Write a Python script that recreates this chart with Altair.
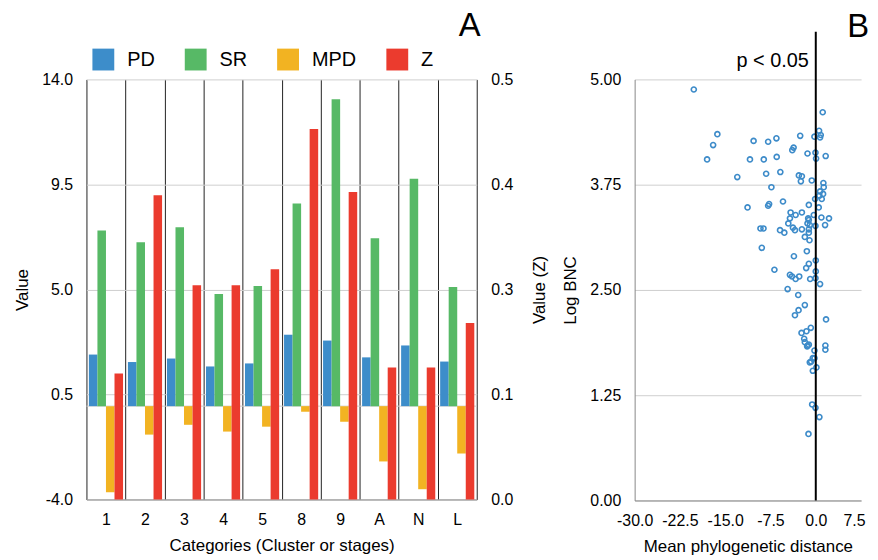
import altair as alt
import pandas as pd

# ---------------- Panel A data ----------------
categories = ["1", "2", "3", "4", "5", "8", "9", "A", "N", "L"]
series_order = ["PD", "SR", "MPD", "Z"]
series_colors = ["#3d8dca", "#57b966", "#f2b322", "#eb3b2e"]
pd_vals = [2.21, 1.89, 2.04, 1.70, 1.83, 3.06, 2.81, 2.09, 2.60, 1.91]
sr_vals = [7.53, 7.02, 7.66, 4.81, 5.15, 8.68, 13.15, 7.19, 9.74, 5.11]
mpd_vals = [-3.69, -1.22, -0.80, -1.09, -0.88, -0.24, -0.67, -2.37, -3.56, -2.03]
z_vals = [0.150, 0.362, 0.255, 0.255, 0.274, 0.441, 0.366, 0.157, 0.157, 0.210]
left_ticks = [-4.0, 0.5, 5.0, 9.5, 14.0]
right_ticks = [0.0, 0.125, 0.25, 0.375, 0.5]

# ---------------- Panel B data ----------------
mpd_x = [-20.2, 1.15, -16.3, 0.55, -2.58, -6.52, -10.3, -7.89, -0.22, 0.82,
         0.71, -17.0, -3.67, -3.89, -1.37, -0.05, 1.64, -18.0, -10.9, -8.61,
         -6.47, 0.05, -13.0, -8.22, -5.87, -2.80, -2.30, -2.47, -0.66, 1.26,
         1.32, -7.35, 0.71, 1.21, 0.60, -11.3, -7.89, -7.73, -5.43, -0.11,
         -1.15, 0.99, 0.49, -4.17, -3.34, -2.30, -4.28, -1.26, -1.15, -0.33,
         0.93, 2.19, -4.55, -1.37, -0.99, -0.05, 1.54, -9.16, -8.66, -5.92,
         -5.21, -3.78, -3.45, -2.30, -1.15, -1.15, -1.81, -1.04, -8.94, -1.48,
         -3.62, 0.0, -1.15, -1.59, -6.85, 0.0, -4.28, -3.95, -2.74, -0.93,
         -0.05, -3.34, 0.71, -4.66, -2.91, -1.81, -2.85, -3.45, 1.70, -0.82,
         -1.54, -2.36, -1.92, -1.81, -1.37, -1.15, -1.43, 1.59, 1.59, -0.22,
         -0.49, -0.22, -0.77, -0.99, 0.11, -0.49, -0.60, -0.05, 0.60, -1.21]
log_bnc = [4.88, 4.61, 4.35, 4.39, 4.33, 4.30, 4.27, 4.26, 4.32, 4.34,
           4.31, 4.22, 4.19, 4.16, 4.12, 4.13, 4.09, 4.05, 4.05, 4.05,
           4.08, 4.06, 3.84, 3.88, 3.90, 3.86, 3.85, 3.79, 3.80, 3.77,
           3.72, 3.72, 3.67, 3.64, 3.62, 3.48, 3.50, 3.52, 3.55, 3.58,
           3.51, 3.58, 3.48, 3.42, 3.39, 3.42, 3.35, 3.35, 3.33, 3.39,
           3.36, 3.35, 3.29, 3.29, 3.27, 3.26, 3.27, 3.23, 3.23, 3.21,
           3.18, 3.24, 3.21, 3.22, 3.22, 3.18, 3.13, 3.09, 3.00, 2.96,
           2.90, 2.85, 2.81, 2.76, 2.74, 2.72, 2.68, 2.66, 2.66, 2.63,
           2.64, 2.63, 2.57, 2.51, 2.44, 2.32, 2.26, 2.20, 2.15, 2.05,
           2.01, 1.99, 1.92, 1.88, 1.84, 1.85, 1.83, 1.84, 1.79, 1.78,
           1.69, 1.69, 1.65, 1.64, 1.58, 1.54, 1.14, 1.10, 0.99, 0.79]
b_xticks = [-30.0, -22.5, -15.0, -7.5, 0.0, 7.5]
b_yticks = [0.0, 1.25, 2.5, 3.75, 5.0]

FONT = "Liberation Sans"
MINUS_FIX = "replace(format(datum.value, '.1f'), '\u2212', '-')"

rows = []
for i, c in enumerate(categories):
    rows.append({"category": c, "series": "PD", "value": pd_vals[i]})
    rows.append({"category": c, "series": "SR", "value": sr_vals[i]})
    rows.append({"category": c, "series": "MPD", "value": mpd_vals[i]})
df_left = pd.DataFrame(rows)
df_z = pd.DataFrame({"category": categories, "series": ["Z"] * len(categories), "value": z_vals})

x_enc = alt.X("category:N", sort=categories,
              scale=alt.Scale(domain=categories, paddingInner=0, paddingOuter=0),
              axis=alt.Axis(title="Categories (Cluster or stages)", labelAngle=0,
                            tickBand="extent", grid=True, gridColor="#222", gridWidth=1,
                            ticks=False, domainColor="#888", labelPadding=12,
                            labelFontSize=16, titleFontSize=17, titlePadding=10,
                            titleFontWeight="normal", labelFont=FONT, titleFont=FONT))
xoff_enc = alt.XOffset("series:N", sort=series_order,
                       scale=alt.Scale(domain=series_order, paddingInner=0, paddingOuter=0.286))
color_enc = alt.Color("series:N", sort=series_order,
                      scale=alt.Scale(domain=series_order, range=series_colors),
                      legend=alt.Legend(title=None, orient="none", direction="horizontal",
                                        legendX=6, legendY=-31, symbolType="square",
                                        symbolSize=484, symbolStrokeWidth=0, labelFontSize=20,
                                        labelOffset=13, columnPadding=30, labelFont=FONT))

left_bars = alt.Chart(df_left).mark_bar().encode(
    x=x_enc, xOffset=xoff_enc,
    y=alt.Y("value:Q", scale=alt.Scale(domain=[-4, 14], nice=False, zero=False),
            axis=alt.Axis(title="Value", values=left_ticks, labelExpr=MINUS_FIX,
                          grid=True, gridColor="#cfcfcf", domain=False, ticks=False,
                          labelPadding=14, labelFontSize=16, titleFontSize=17, titlePadding=10,
                          titleFontWeight="normal", labelFont=FONT, titleFont=FONT)),
    color=color_enc,
)
zero_rule = alt.Chart(pd.DataFrame({"value": [0.0]})).mark_rule(color="#cfcfcf", strokeWidth=1).encode(
    y=alt.Y("value:Q")
)
right_bars = alt.Chart(df_z).mark_bar().encode(
    x=x_enc, xOffset=xoff_enc,
    y=alt.Y("value:Q", scale=alt.Scale(domain=[0, 0.5], nice=False),
            axis=alt.Axis(title="Value (Z)", orient="right", values=right_ticks, format=".1f",
                          grid=False, domain=False, ticks=False, labelPadding=14,
                          labelFontSize=16, titleFontSize=17, titlePadding=36, titleAngle=270,
                          titleFontWeight="normal", labelFont=FONT, titleFont=FONT)),
    color=color_enc,
)
label_a = alt.Chart(pd.DataFrame({"t": ["A"]})).mark_text(
    fontSize=33, font=FONT, align="center", baseline="alphabetic", color="black"
).encode(x=alt.value(386), y=alt.value(-44), text="t:N")

panel_a = alt.layer(
    alt.layer(zero_rule, left_bars),
    right_bars,
    label_a,
).resolve_scale(y="independent").properties(width=393, height=423)

# ---------------- Panel B ----------------
df_b = pd.DataFrame({"mpd": mpd_x, "bnc": log_bnc})
points = alt.Chart(df_b).mark_point(shape="circle", filled=False, color="#3d8bc9",
                                     size=26, strokeWidth=1.6, opacity=1).encode(
    x=alt.X("mpd:Q", scale=alt.Scale(domain=[-30, 7.5], nice=False, zero=False),
            axis=alt.Axis(title="Mean phylogenetic distance", values=b_xticks, labelExpr=MINUS_FIX,
                          grid=False, ticks=False, domainColor="#888", labelPadding=12,
                          labelOverlap=False, labelFlush=False, labelFontSize=16,
                          labelAlign={"condition": {"test": "datum.value >= 7.5", "value": "right"},
                                      "value": "center"},
                          labelOffset={"condition": {"test": "datum.value >= 7.5", "value": 4},
                                       "value": 0},
                          titleFontSize=17, titlePadding=10,
                          titleFontWeight="normal", labelFont=FONT, titleFont=FONT)),
    y=alt.Y("bnc:Q", scale=alt.Scale(domain=[0, 5], nice=False),
            axis=alt.Axis(title="Log BNC", values=b_yticks, format=".2f", grid=True,
                          gridColor="#cfcfcf", domainColor="#888", ticks=False, labelPadding=14,
                          labelFontSize=16, titleFontSize=17, titlePadding=10,
                          titleFontWeight="normal", labelFont=FONT, titleFont=FONT)),
)
vline_df = pd.DataFrame({"x": [0.0], "t": ["p < 0.05"]})
vline = alt.Chart(vline_df).mark_rule(color="black", strokeWidth=2).encode(
    x="x:Q", y=alt.value(-48), y2=alt.value(424)
)
ptext = alt.Chart(vline_df).mark_text(fontSize=20, font=FONT, align="right", baseline="middle",
                                       dx=-7, color="black").encode(
    x="x:Q", y=alt.value(-19), text="t:N"
)
label_b = alt.Chart(pd.DataFrame({"t": ["B"]})).mark_text(
    fontSize=33, font=FONT, align="center", baseline="alphabetic", color="black"
).encode(x=alt.value(225), y=alt.value(-43), text="t:N")

panel_b = alt.layer(points, vline, ptext, label_b).properties(width=228, height=424)

chart = alt.hconcat(panel_a, panel_b, spacing=13).configure_view(
    stroke=None
).configure_axis(
    labelFont=FONT, titleFont=FONT, labelColor="black", titleColor="black",
    titleFontWeight="normal"
).configure_legend(
    labelColor="black"
).properties(padding={"left": 5, "top": 0, "right": 0, "bottom": 0})

chart.save("out.html", embed_options={"renderer": "svg", "actions": False})
